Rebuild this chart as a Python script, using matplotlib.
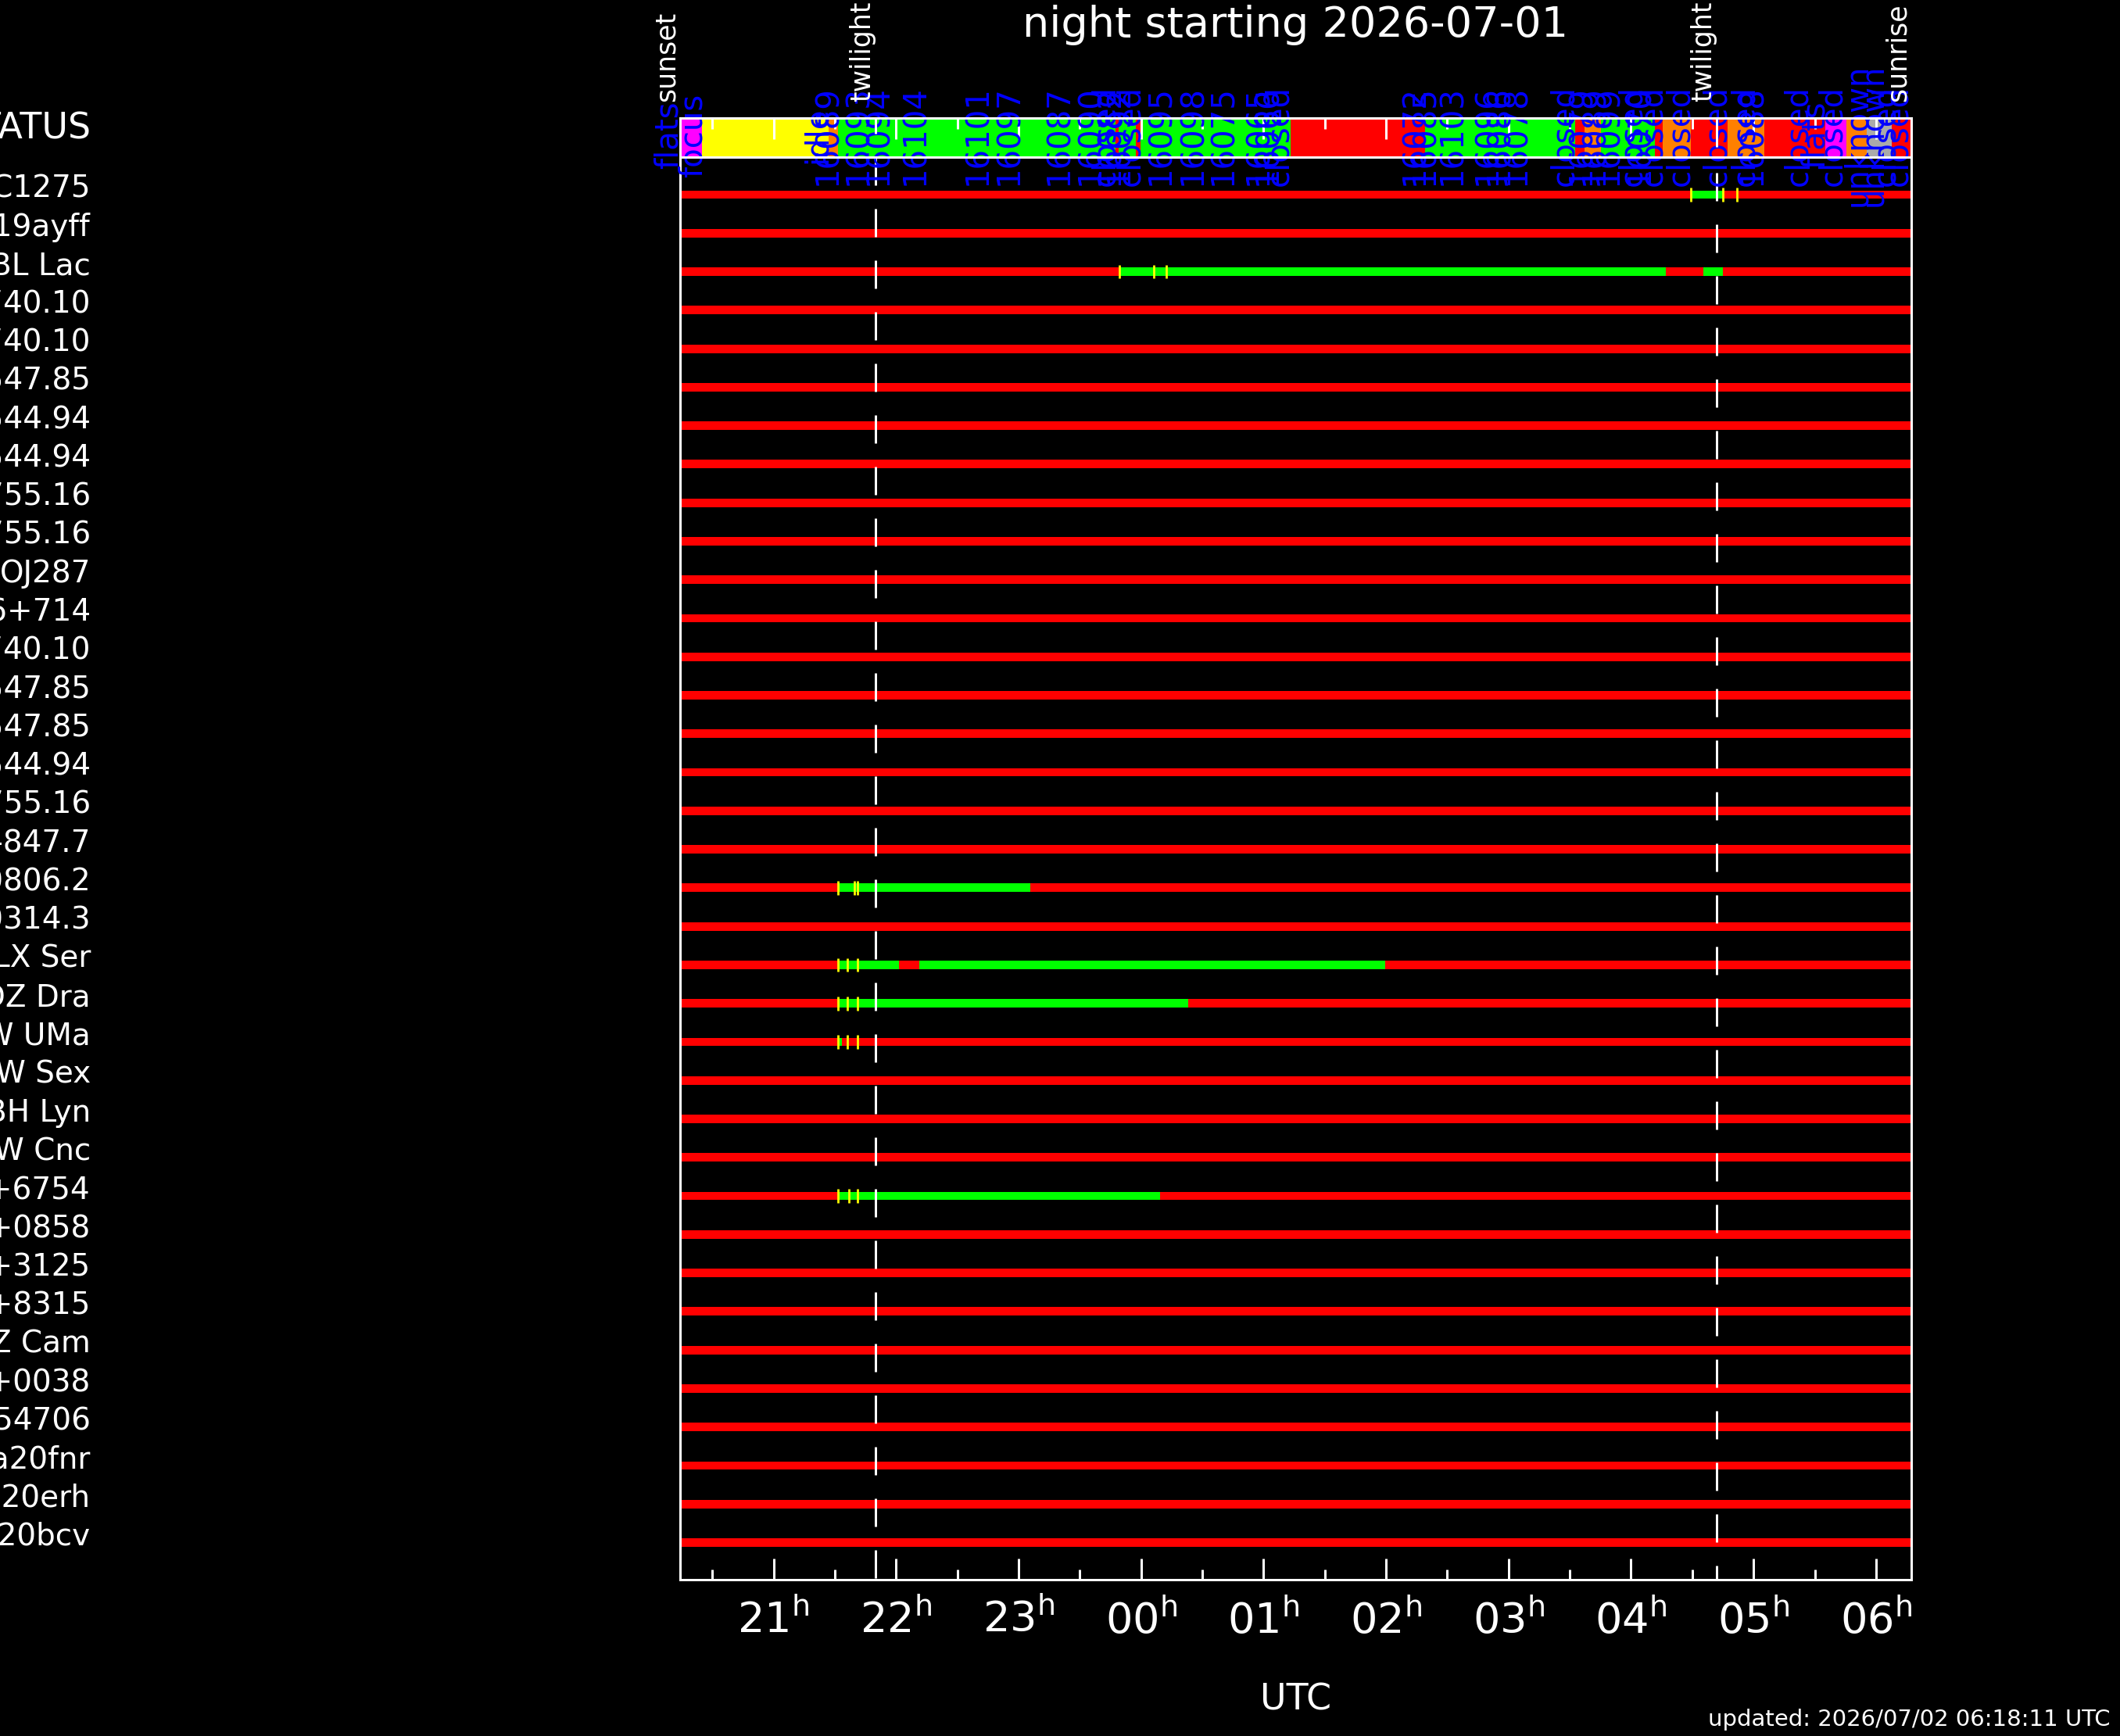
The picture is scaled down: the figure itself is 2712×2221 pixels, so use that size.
import matplotlib
matplotlib.use('Agg')
import matplotlib.pyplot as plt
import matplotlib.transforms as mtransforms

plt.rcParams['font.family'] = ['DejaVu Sans']
plt.rcParams['lines.scale_dashes'] = False
plt.rcParams['mathtext.default'] = 'regular'

W, H, DPI = 2712, 2221, 100

# ---------------- data ----------------
title = "night starting 2026-07-01"
updated = "updated: 2026/07/02 06:18:11 UTC"

t_start, t_end = 20.237, 30.288          # UTC hours (past 24 = next day)
hour_ticks = [21, 22, 23, 24, 25, 26, 27, 28, 29, 30]
hour_labels = ['21', '22', '23', '00', '01', '02', '03', '04', '05', '06']
half_ticks = [20.5, 21.5, 22.5, 23.5, 24.5, 25.5, 26.5, 27.5, 28.5, 29.5]

event_names = ['sunset', 'twilight', 'twilight', 'sunrise']
event_times = [20.237, 21.832, 28.702, 30.288]
twilight_times = [21.832, 28.702]

row_names = [
    "NGC1275", "Gaia19ayff", "BL Lac", "TIC 1007740.10", "TIC 1007740.10",
    "TIC 1205547.85", "TIC 2705544.94", "TIC 2705544.94", "TIC 3307755.16",
    "TIC 3307755.16", "OJ287", "S5 0716+714", "TIC 1007740.10",
    "TIC 1205547.85", "TIC 1205547.85", "TIC 2705544.94", "TIC 3307755.16",
    "EPIC-847.7", "TIC 200806.2", "TIC 300314.3", "LX Ser", "DZ Dra",
    "W UMa", "RW Sex", "BH Lyn", "RW Cnc", "J1108+6754", "J2130+0858",
    "J0805+3125", "J0638+8315", "Z Cam", "J1253+0038", "ASAS J154706",
    "Gaia20fnr", "Gaia20erh", "Gaia20bcv",
]

# observed (green) segments on the target rows
seg_row = [0, 2, 2, 18, 20, 20, 21, 22, 26]
seg_start = [28.488, 23.824, 28.591, 21.526, 21.526, 22.190, 21.526, 21.526, 21.526]
seg_end = [28.750, 28.285, 28.750, 23.096, 22.024, 25.994, 24.384, 21.560, 24.155]

# yellow event marks on the target rows
mark_row = [0, 0, 0, 2, 2, 2, 18, 18, 18, 20, 20, 20, 21, 21, 21,
            22, 22, 22, 26, 26, 26]
mark_time = [28.488, 28.750, 28.865, 23.824, 24.105, 24.207,
             21.526, 21.660, 21.686, 21.526, 21.603, 21.686,
             21.526, 21.603, 21.686, 21.526, 21.603, 21.686,
             21.526, 21.615, 21.686]

# status bar
status_start = [20.237, 20.415, 21.449, 21.526, 23.791, 23.817, 23.957, 23.996,
                25.221, 26.318, 27.544, 27.620, 27.754, 28.195, 28.258, 28.488,
                28.788, 29.088, 29.586, 29.758, 29.924, 30.128]
status_end = [20.415, 21.449, 21.526, 23.791, 23.817, 23.957, 23.996, 25.221,
              26.318, 27.544, 27.620, 27.754, 28.195, 28.258, 28.488, 28.788,
              29.088, 29.586, 29.758, 29.924, 30.128, 30.288]
status_color = ['#ff00ff', '#ffff00', '#ff8000', '#00ff00', '#ff0000', '#00ff00',
                '#ff0000', '#00ff00', '#ff0000', '#00ff00', '#ff0000', '#ff8000',
                '#00ff00', '#ff0000', '#ff8000', '#ff0000', '#ff8000', '#ff0000',
                '#ff00ff', '#ff8000', '#aaaaaa', '#ff0000']

status_text = ['flats', 'focus', 'idle', '16089', '16093', '16094', '16104',
               '16101', '16097', '16087', '16090', 'closed', '16082', '16092',
               'closed', '16095', '16098', '16075', '16065', '16066', 'closed',
               '16072', '16085', '16103', '16096', '16086', '16078', 'closed',
               '16079', '16089', '16099', 'closed', '16070', 'closed', 'closed',
               'closed', 'closed', '16088', 'closed', 'flats', 'closed',
               'unknown', 'unknown', 'closed', 'closed']
status_time = [20.147, 20.345, 21.360, 21.443, 21.692, 21.858, 22.158,
               22.668, 22.923, 23.332, 23.587, 23.708, 23.746, 23.823,
               23.912, 24.161, 24.423, 24.672, 24.959, 25.036, 25.125,
               26.236, 26.319, 26.542, 26.829, 26.925, 27.065, 27.455,
               27.596, 27.704, 27.819, 28.011, 28.075, 28.177, 28.400,
               28.700, 28.930, 28.994, 29.364, 29.504, 29.645,
               29.849, 29.977, 30.079, 30.181]

# ---------------- layout helpers ----------------
def fx(px):
    return px / W


def fy(py):
    return 1 - py / H


PT = 72.0 / DPI  # points per pixel

fig = plt.figure(figsize=(W / DPI, H / DPI), dpi=DPI, facecolor='black')

ax = fig.add_axes([fx(870), fy(2021), fx(2445) - fx(870), fy(201) - fy(2021)])
axs = fig.add_axes([fx(870), fy(201), fx(2445) - fx(870), fy(151) - fy(201)])

n = len(row_names)
rows = list(range(n))
bar_h = 0.22

# ---------------- main panel ----------------
ax.set_facecolor('black')
ax.set_xlim(t_start, t_end)
ax.set_ylim(n - 1 + 47.5 / 49.27, -48 / 49.27)

ax.barh(rows, [t_end - t_start] * n, left=t_start, height=bar_h,
        color='#ff0000', linewidth=0, zorder=1)
ax.barh(seg_row, [e - s for s, e in zip(seg_start, seg_end)], left=seg_start,
        height=bar_h, color='#00ff00', linewidth=0, zorder=1.5)
ax.vlines(mark_time, [r - 0.18 for r in mark_row], [r + 0.18 for r in mark_row],
          colors='#ffff00', linewidth=2.0, zorder=2)

blend_main = mtransforms.blended_transform_factory(ax.transData, ax.transAxes)
offsets = [0, 46]
for tw, off in zip(twilight_times, offsets):
    ax.plot([tw, tw], [1, 0], transform=blend_main, color='white',
            linewidth=3 * PT, linestyle=(off * PT, (36 * PT, 30 * PT)),
            solid_capstyle='butt', dash_capstyle='butt', zorder=2.2)

for s in ax.spines.values():
    s.set_color('white')
    s.set_linewidth(3 * PT)

ax.set_xticks(hour_ticks, [r'$%s^{h}$' % l for l in hour_labels])
ax.set_xticks(half_ticks, minor=True)
ax.tick_params(axis='x', which='major', direction='in', length=27 * PT,
               width=3 * PT, color='white', labelcolor='white', labelsize=39,
               pad=18)
ax.tick_params(axis='x', which='minor', direction='in', length=13 * PT,
               width=3 * PT, color='white')
ax.set_yticks([])

ax.set_xlabel('UTC', color='white', fontsize=33, va='center')
ax.xaxis.set_label_coords(0.5, (2021 - 2175) / 1820.0)

# row labels (right-aligned, clipped by figure edge)
blend_lbl = mtransforms.blended_transform_factory(fig.transFigure, ax.transData)
lbl_trans = mtransforms.offset_copy(blend_lbl, fig=fig, x=0, y=-3.5, units='dots')
for r, name in zip(rows, row_names):
    ax.text(fx(116), r, name, transform=lbl_trans, ha='right', va='baseline',
            color='white', fontsize=28, clip_on=False)

# ---------------- status panel ----------------
axs.set_facecolor('black')
axs.set_xlim(t_start, t_end)
axs.set_ylim(0, 1)
axs.barh([0.5] * len(status_start),
         [e - s for s, e in zip(status_start, status_end)], left=status_start,
         height=1.0, color=status_color, linewidth=0, zorder=1)
for s in axs.spines.values():
    s.set_color('white')
    s.set_linewidth(3 * PT)
axs.set_yticks([])
axs.set_xticks(hour_ticks, [''] * len(hour_ticks))
axs.set_xticks(half_ticks, minor=True)
axs.tick_params(axis='x', which='major', bottom=False, top=True,
                labelbottom=False, direction='in', length=27 * PT,
                width=3 * PT, color='white')
axs.tick_params(axis='x', which='minor', bottom=False, top=True,
                direction='in', length=14 * PT, width=3 * PT, color='white')

blend_st = mtransforms.blended_transform_factory(axs.transData, axs.transAxes)
for tw, ln in zip(twilight_times, [20, 37]):
    axs.plot([tw, tw], [1, 1 - ln / 50.0], transform=blend_st, color='white',
             linewidth=3 * PT, solid_capstyle='butt', zorder=2.6)

blend_fig = mtransforms.blended_transform_factory(axs.transData, fig.transFigure)
for txt, t in zip(status_text, status_time):
    axs.text(t, fy(173), txt, transform=blend_fig, rotation=90, ha='center',
             va='center', color='#0000ff', fontsize=29, clip_on=False, zorder=2)

for name, t in zip(event_names, event_times):
    axs.text(t, fy(130), name, transform=blend_fig, rotation=90, ha='right',
             va='bottom', color='white', fontsize=25, clip_on=False, zorder=3)

fig.text(fx(116), fy(178), 'STATUS', ha='right', va='baseline', color='white',
         fontsize=33)

fig.text(fx(1657.5), fy(47), title, ha='center', va='baseline', color='white',
         fontsize=39)
fig.text(fx(2700), fy(2208), updated, ha='right', va='baseline', color='white',
         fontsize=21)

fig.savefig('out.png', dpi=DPI, facecolor='black')
